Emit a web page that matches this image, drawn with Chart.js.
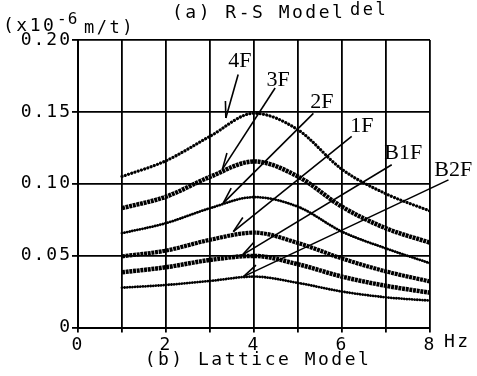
<!DOCTYPE html>
<html>
<head>
<meta charset="utf-8">
<script src="https://cdn.jsdelivr.net/npm/chart.js@4.4.0/dist/chart.umd.min.js"></script>
<style>
html, body { margin: 0; padding: 0; background: #fff; }
#wrap { width: 477px; height: 376px; }
</style>
</head>
<body>
<div id="wrap"><canvas id="chart" width="477" height="376"></canvas></div>
<script>
// Dados (deslocamento, x10^-6 m/t)
const freqs = [1, 2, 3, 4, 5, 6, 7, 8];
const f4F  = [0.105, 0.116, 0.133, 0.149, 0.1375, 0.110, 0.093, 0.081];
const f3F  = [0.083, 0.091, 0.1048, 0.1155, 0.105, 0.084, 0.069, 0.059];
const f2F  = [0.0656, 0.0726, 0.083, 0.0907, 0.084, 0.0667, 0.055, 0.0447];
const f1F  = [0.0495, 0.0535, 0.061, 0.066, 0.0588, 0.048, 0.039, 0.032];
const fB1F = [0.0384, 0.0419, 0.047, 0.0498, 0.044, 0.0354, 0.029, 0.0242];
const fB2F = [0.0277, 0.0296, 0.0324, 0.0354, 0.031, 0.025, 0.021, 0.0187];

const seriesNames = ['4F', '3F', '2F', '1F', 'B1F', 'B2F'];
const seriesValues = [f4F, f3F, f2F, f1F, fB1F, fB2F];

// Eixos
const xTicks = [0, 1, 2, 3, 4, 5, 6, 7, 8];
const xLabels = [0, 2, 4, 6, 8];
const yTicks = [0, 0.05, 0.10, 0.15, 0.20];

// Rótulos e setas (em unidades de dados): [rótulo x, rótulo y, início x, início y, fim x, fim y]
const labelPos = {
    '4F':  [3.68, 0.185, 3.64, 0.176, 3.36, 0.1457],
    '3F':  [4.55, 0.172, 4.48, 0.1666, 3.28, 0.110],
    '2F':  [5.54, 0.157, 5.35, 0.149, 3.30, 0.0865],
    '1F':  [6.45, 0.1398, 6.22, 0.1329, 3.53, 0.0667],
    'B1F': [7.39, 0.1213, 7.13, 0.1132, 3.74, 0.0505],
    'B2F': [8.53, 0.1097, 8.42, 0.1027, 3.76, 0.0354]
};

// Estilo das curvas pontilhadas
const lineStyles = {
    '4F':  { width: 3.2, dash: [0.01, 3.4], cap: 'round' },
    '3F':  { width: 4.5, dash: [3, 0.7],    cap: 'butt' },
    '2F':  { width: 2.8, dash: [0.01, 2.6], cap: 'round' },
    '1F':  { width: 4.2, dash: [3, 0.7],    cap: 'butt' },
    'B1F': { width: 4.5, dash: [3, 0.7],    cap: 'butt' },
    'B2F': { width: 2.8, dash: [0.01, 2.6], cap: 'round' }
};

const monoFont = "'DejaVu Sans Mono', monospace";

const datasets = seriesNames.map((name, i) => ({
    label: name,
    data: freqs.map((f, j) => ({ x: f, y: seriesValues[i][j] })),
    borderColor: '#000',
    borderWidth: lineStyles[name].width,
    borderDash: lineStyles[name].dash,
    borderCapStyle: lineStyles[name].cap,
    pointRadius: 0,
    cubicInterpolationMode: 'monotone',
    fill: false
}));

// Espaçamento das letras (estilo máquina de escrever)
const spacingPlugin = {
    id: 'spacing',
    beforeDraw(chart) { chart.ctx.letterSpacing = '2px'; },
    afterDraw(chart) { chart.ctx.letterSpacing = '0px'; }
};

// Textos e setas desenhados sobre o gráfico
const annotationPlugin = {
    id: 'annotations',
    afterDraw(chart) {
        const ctx = chart.ctx;
        const xs = chart.scales.x;
        const ys = chart.scales.y;
        ctx.save();
        ctx.fillStyle = '#000';
        ctx.strokeStyle = '#000';

        // Setas
        ctx.lineWidth = 1.6;
        seriesNames.forEach(name => {
            const p = labelPos[name];
            const x1 = xs.getPixelForValue(p[2]), y1 = ys.getPixelForValue(p[3]);
            const x2 = xs.getPixelForValue(p[4]), y2 = ys.getPixelForValue(p[5]);
            ctx.beginPath();
            ctx.moveTo(x1, y1);
            ctx.lineTo(x2, y2);
            ctx.stroke();
            // farpa da seta
            const back = Math.atan2(y1 - y2, x1 - x2) - 0.3;
            ctx.beginPath();
            ctx.moveTo(x2, y2);
            ctx.lineTo(x2 + 17 * Math.cos(back), y2 + 17 * Math.sin(back));
            ctx.stroke();
        });

        // Rótulos das curvas
        ctx.letterSpacing = '0px';
        ctx.font = "22px 'Liberation Serif', serif";
        ctx.textAlign = 'center';
        ctx.textBaseline = 'middle';
        seriesNames.forEach(name => {
            const p = labelPos[name];
            ctx.fillText(name, xs.getPixelForValue(p[0]), ys.getPixelForValue(p[1]));
        });

        // Títulos
        ctx.textBaseline = 'alphabetic';
        ctx.textAlign = 'left';
        ctx.letterSpacing = '2.5px';
        ctx.font = '18px ' + monoFont;
        ctx.fillText('(a) R-S Model', 172, 18);
        ctx.font = '17px ' + monoFont;
        ctx.fillText('del', 350, 15);

        ctx.font = '18px ' + monoFont;
        ctx.fillText('(x10', 3, 31);
        ctx.letterSpacing = '1px';
        ctx.font = '16px ' + monoFont;
        ctx.fillText('-6', 57, 24);
        ctx.letterSpacing = '2.5px';
        ctx.font = '17px ' + monoFont;
        ctx.fillText('m/t)', 84, 33);

        ctx.font = '18px ' + monoFont;
        ctx.textAlign = 'center';
        ctx.fillText('(b) Lattice Model', 258, 365);

        ctx.textAlign = 'left';
        ctx.textBaseline = 'middle';
        ctx.fillText('Hz', xs.getPixelForValue(8) + 14, xs.bottom - 34);
        ctx.restore();
    }
};

new Chart(document.getElementById('chart'), {
    type: 'line',
    data: { datasets: datasets },
    options: {
        responsive: false,
        animation: false,
        events: [],
        layout: { padding: { top: 40, right: 47, left: 0, bottom: 0 } },
        plugins: {
            legend: { display: false },
            tooltip: { enabled: false },
            title: { display: false }
        },
        scales: {
            x: {
                type: 'linear',
                min: 0,
                max: 8,
                afterBuildTicks: s => { s.ticks = xTicks.map(v => ({ value: v })); },
                afterFit: s => { s.height = 48.5; },
                grid: { color: '#000', lineWidth: 1.8, tickLength: 5, drawTicks: true },
                border: { color: '#000', width: 2 },
                ticks: {
                    color: '#000',
                    font: { family: monoFont, size: 18 },
                    padding: 2,
                    maxRotation: 0,
                    autoSkip: false,
                    callback: v => xLabels.includes(v) ? String(v) : ''
                }
            },
            y: {
                min: 0,
                max: 0.20,
                afterBuildTicks: s => { s.ticks = yTicks.map(v => ({ value: v })); },
                afterFit: s => { s.width = 78; },
                grid: { color: '#000', lineWidth: 1.8, tickLength: 6 },
                border: { color: '#000', width: 2 },
                ticks: {
                    color: '#000',
                    font: { family: monoFont, size: 18 },
                    padding: 0,
                    callback: v => v === 0 ? '0' : v.toFixed(2)
                }
            }
        }
    },
    plugins: [spacingPlugin, annotationPlugin]
});
</script>
</body>
</html>
